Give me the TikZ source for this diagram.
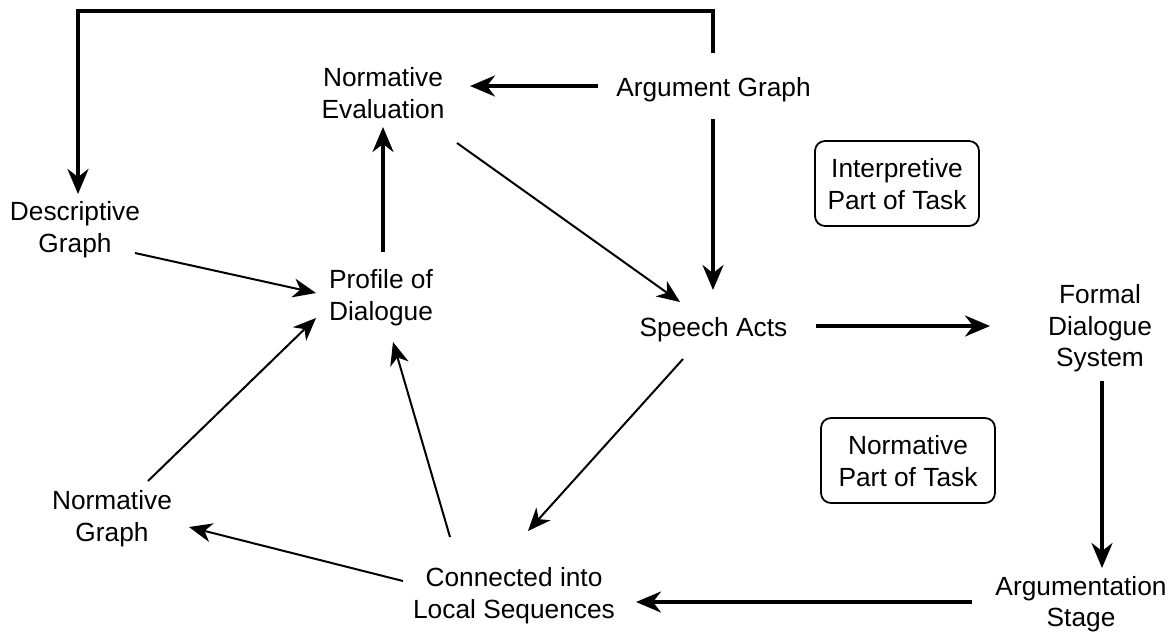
\documentclass[tikz,border=0pt]{standalone}
\usepackage{fontspec}
\setmainfont{Liberation Sans}
\usetikzlibrary{arrows.meta}
\tikzset{
  lbl/.style={inner sep=0pt, outer sep=0pt, anchor=base, font=\fontsize{26.3}{31.5}\selectfont},
  taskbox/.style={lbl, draw, line width=1.8pt, rounded corners=10pt, inner sep=0pt,
                  text height=68pt, text depth=17pt},
  thickarr/.style={line width=3.3pt, -{Stealth[length=25pt,width=21pt,inset=8pt]}},
  thinarr/.style={line width=2pt, -{Stealth[length=23pt,width=19pt,inset=7pt]}},
}
\newcommand{\lines}[1]{\begin{tabular}[b]{@{}c@{}}#1\end{tabular}}
\begin{document}
\begin{tikzpicture}[x=1pt,y=-1pt]
\useasboundingbox (0,0) rectangle (1174,633);
% nodes
\node[lbl] (ne)  at (383,118)    {\lines{Normative\\Evaluation}};
\node[lbl] (ag)  at (713.5,96)   {\lines{Argument Graph}};
\node[lbl] (dg)  at (75,252)     {\lines{Descriptive\\Graph}};
\node[lbl] (pd)  at (381,320)    {\lines{Profile of\\Dialogue}};
\node[lbl] (sa)  at (713.5,336)  {\lines{Speech Acts}};
\node[lbl] (fds) at (1100,366.5) {\lines{Formal\\Dialogue\\System}};
\node[lbl] (ng)  at (112,541)    {\lines{Normative\\Graph}};
\node[lbl] (cls) at (514,618)    {\lines{Connected into\\Local Sequences}};
\node[lbl] (as)  at (1081,626.5) {\lines{Argumentation\\Stage}};
\node[taskbox, minimum width=164pt] (interp) at (897,209) {\lines{Interpretive\\Part of Task}};
\node[taskbox, minimum width=174pt] (normp)  at (908,486) {\lines{Normative\\Part of Task}};
% connectors
\draw[thickarr, line join=miter] ([shift={(-0.5,-43)}]ag.base) -- ++(0,-42) -| ([shift={(3,-58)}]dg.base);
\draw[thickarr] ([shift={(-115.5,-10)}]ag.base) -- ([shift={(87,-32)}]ne.base);
\draw[thickarr] ([shift={(-0.5,23)}]ag.base) -- ([shift={(-0.5,-46)}]sa.base);
\draw[thinarr]  ([shift={(74,25)}]ne.base) -- ([shift={(-33.5,-34)}]sa.base);
\draw[thickarr] ([shift={(2,-68)}]pd.base) -- ([shift={(0,9)}]ne.base);
\draw[thinarr]  ([shift={(60,1)}]dg.base) -- ([shift={(-65,-27)}]pd.base);
\draw[thinarr]  ([shift={(36,-60)}]ng.base) -- ([shift={(-65,-2)}]pd.base);
\draw[thinarr]  ([shift={(-64,-81)}]cls.base) -- ([shift={(12,22)}]pd.base);
\draw[thinarr]  ([shift={(-111,-37)}]cls.base) -- ([shift={(77,-14)}]ng.base);
\draw[thinarr]  ([shift={(-30.5,23)}]sa.base) -- ([shift={(14,-87)}]cls.base);
\draw[thickarr] ([shift={(102.5,-10)}]sa.base) -- ([shift={(-110,-40.5)}]fds.base);
\draw[thickarr] ([shift={(2,14.5)}]fds.base) -- ([shift={(21,-58.5)}]as.base);
\draw[thickarr] ([shift={(-109,-24.5)}]as.base) -- ([shift={(122,-16)}]cls.base);
\end{tikzpicture}
\end{document}
